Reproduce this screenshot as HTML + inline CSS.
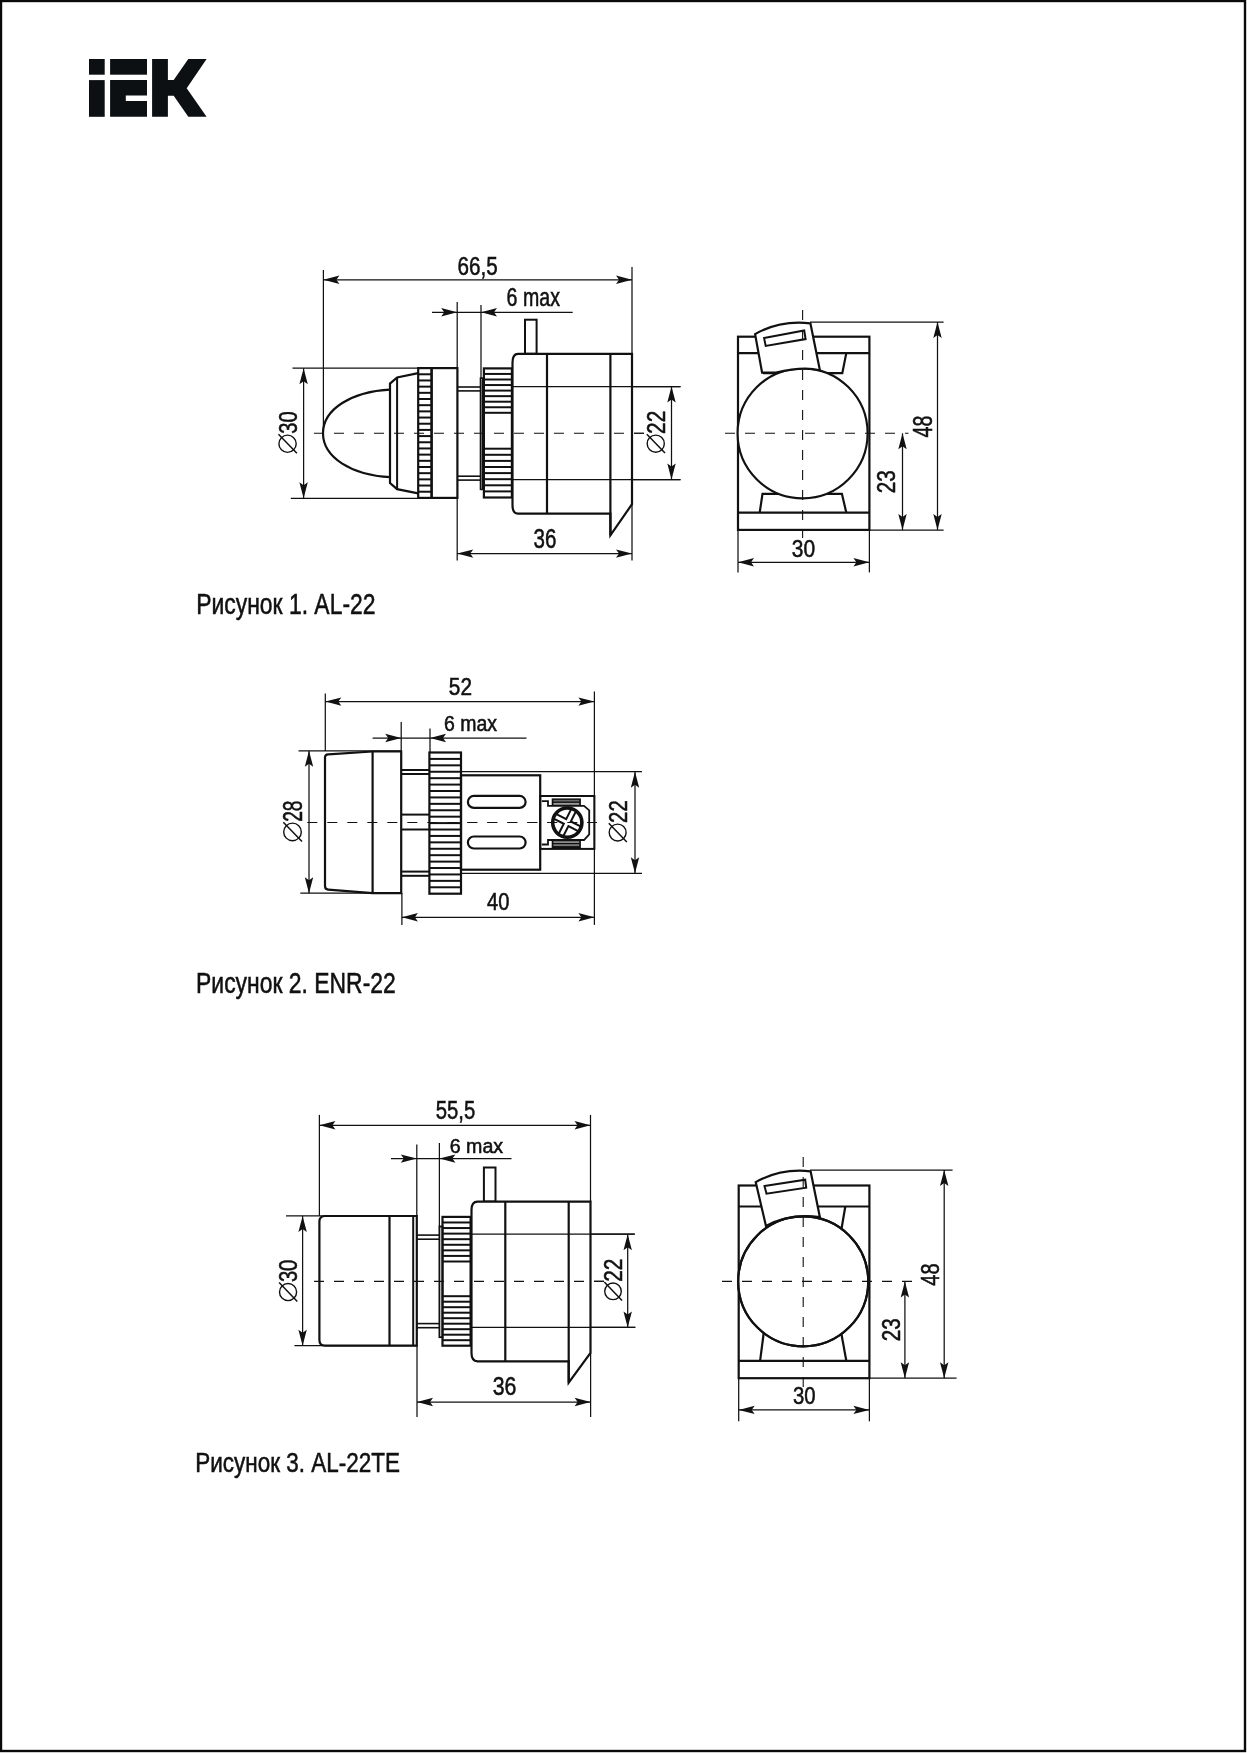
<!DOCTYPE html>
<html><head><meta charset="utf-8"><title>IEK AL-22 / ENR-22 / AL-22TE</title>
<style>
html,body{margin:0;padding:0;background:#fff;}
svg{display:block;will-change:transform;}
text{font-family:"Liberation Sans",sans-serif;fill:#111;stroke:#111;stroke-width:0.55px;}
</style></head><body>
<svg width="1247" height="1753" viewBox="0 0 1247 1753">
<rect x="1" y="1" width="1244" height="1750" fill="none" stroke="#0a0a0a" stroke-width="2.4"/>
<g fill="#0d1012"><rect x="89" y="59" width="15.7" height="15.7"/><rect x="89" y="80.1" width="15.7" height="36.7"/><rect x="110.1" y="59" width="36.9" height="15.7"/><path d="M110.1 80.1 H147 V95.5 H125.8 V101.1 H147 V116.8 H110.1 Z"/><path d="M152.1 59 H167.9 V80.1 H173.7 L188.3 59 H206.6 L186.7 88.2 L206.6 116.8 H188.3 L173.7 95.8 H167.9 V116.8 H152.1 Z"/></g>
<line x1="314" y1="433.3" x2="645" y2="433.3" stroke="#111" stroke-width="1.1" stroke-dasharray="10 10" stroke-dashoffset="0"/>
<line x1="323.4" y1="270" x2="323.4" y2="433.3" stroke="#111" stroke-width="1.25"/>
<line x1="632" y1="267" x2="632" y2="354" stroke="#111" stroke-width="1.25"/>
<line x1="323.4" y1="279.8" x2="632" y2="279.8" stroke="#111" stroke-width="1.25"/>
<path d="M323.4 279.8 L339.4 275.6 L336.4 279.8 L339.4 284 Z" fill="#111" stroke="none"/>
<path d="M632 279.8 L616 275.6 L619 279.8 L616 284 Z" fill="#111" stroke="none"/>
<text transform="translate(457.47 274.5) scale(0.7942 1)" font-size="26.00">66,5</text>
<line x1="432" y1="312.3" x2="572.7" y2="312.3" stroke="#111" stroke-width="1.25"/>
<path d="M457.2 312.3 L441.2 308.1 L444.2 312.3 L441.2 316.5 Z" fill="#111" stroke="none"/>
<path d="M481 312.3 L497 308.1 L494 312.3 L497 316.5 Z" fill="#111" stroke="none"/>
<line x1="457.2" y1="302" x2="457.2" y2="368" stroke="#111" stroke-width="1.25"/>
<line x1="481" y1="305" x2="481" y2="378.5" stroke="#111" stroke-width="1.25"/>
<text transform="translate(506.62 305.6) scale(0.7575 1)" font-size="25.86">6 max</text>
<line x1="292.5" y1="368.2" x2="418" y2="368.2" stroke="#111" stroke-width="1.25"/>
<line x1="290.8" y1="498.3" x2="418" y2="498.3" stroke="#111" stroke-width="1.25"/>
<line x1="303.6" y1="368.2" x2="303.6" y2="498.3" stroke="#111" stroke-width="1.25"/>
<path d="M303.6 368.2 L299.4 384.2 L303.6 381.2 L307.8 384.2 Z" fill="#111" stroke="none"/>
<path d="M303.6 498.3 L299.4 482.3 L303.6 485.3 L307.8 482.3 Z" fill="#111" stroke="none"/>
<circle cx="287.55" cy="443.75" r="8.65" fill="none" stroke="#111" stroke-width="1.4"/>
<line x1="278.5" y1="434.2" x2="296.9" y2="453.3" stroke="#111" stroke-width="1.5"/>
<text transform="translate(296.9 433.7) rotate(-90) scale(0.7523 1)" font-size="26.71">30</text>
<line x1="512" y1="386.5" x2="680.5" y2="386.5" stroke="#111" stroke-width="1.25"/>
<line x1="512" y1="479.6" x2="680.5" y2="479.6" stroke="#111" stroke-width="1.25"/>
<line x1="671.5" y1="386.5" x2="671.5" y2="479.6" stroke="#111" stroke-width="1.25"/>
<path d="M671.5 386.5 L667.3 402.5 L671.5 399.5 L675.7 402.5 Z" fill="#111" stroke="none"/>
<path d="M671.5 479.6 L667.3 463.6 L671.5 466.6 L675.7 463.6 Z" fill="#111" stroke="none"/>
<circle cx="655.75" cy="443.65" r="8.55" fill="none" stroke="#111" stroke-width="1.4"/>
<line x1="646.8" y1="434.2" x2="665" y2="453.1" stroke="#111" stroke-width="1.5"/>
<text transform="translate(665 433.94) rotate(-90) scale(0.7905 1)" font-size="26.43">22</text>
<line x1="457.2" y1="498" x2="457.2" y2="560.4" stroke="#111" stroke-width="1.25"/>
<line x1="632" y1="504" x2="632" y2="560.4" stroke="#111" stroke-width="1.25"/>
<line x1="457.2" y1="553.6" x2="632" y2="553.6" stroke="#111" stroke-width="1.25"/>
<path d="M457.2 553.6 L473.2 549.4 L470.2 553.6 L473.2 557.8 Z" fill="#111" stroke="none"/>
<path d="M632 553.6 L616 549.4 L619 553.6 L616 557.8 Z" fill="#111" stroke="none"/>
<text transform="translate(533.58 548.4) scale(0.7583 1)" font-size="27.14">36</text>
<path d="M390 389.6 C352 391.5 323 409 323 433.3 C323 457.6 352 475.3 390 477.2" fill="none" stroke="#111" stroke-width="2.2"/>
<path d="M418.2 373.2 L397.1 377.4 L390 383.6 L390 483 L397.1 489.2 L418.2 493.4" fill="none" stroke="#111" stroke-width="2.2"/>
<line x1="397.1" y1="377.4" x2="397.1" y2="489.2" stroke="#111" stroke-width="2"/>
<rect x="418.2" y="368.1" width="13.4" height="129.8" fill="none" stroke="#111" stroke-width="2.2"/>
<line x1="418.2" y1="374.28" x2="431.6" y2="374.28" stroke="#111" stroke-width="2"/>
<line x1="418.2" y1="380.46" x2="431.6" y2="380.46" stroke="#111" stroke-width="2"/>
<line x1="418.2" y1="386.64" x2="431.6" y2="386.64" stroke="#111" stroke-width="2"/>
<line x1="418.2" y1="392.82" x2="431.6" y2="392.82" stroke="#111" stroke-width="2"/>
<line x1="418.2" y1="399" x2="431.6" y2="399" stroke="#111" stroke-width="2"/>
<line x1="418.2" y1="405.19" x2="431.6" y2="405.19" stroke="#111" stroke-width="2"/>
<line x1="418.2" y1="411.37" x2="431.6" y2="411.37" stroke="#111" stroke-width="2"/>
<line x1="418.2" y1="417.55" x2="431.6" y2="417.55" stroke="#111" stroke-width="2"/>
<line x1="418.2" y1="423.73" x2="431.6" y2="423.73" stroke="#111" stroke-width="2"/>
<line x1="418.2" y1="429.91" x2="431.6" y2="429.91" stroke="#111" stroke-width="2"/>
<line x1="418.2" y1="436.09" x2="431.6" y2="436.09" stroke="#111" stroke-width="2"/>
<line x1="418.2" y1="442.27" x2="431.6" y2="442.27" stroke="#111" stroke-width="2"/>
<line x1="418.2" y1="448.45" x2="431.6" y2="448.45" stroke="#111" stroke-width="2"/>
<line x1="418.2" y1="454.63" x2="431.6" y2="454.63" stroke="#111" stroke-width="2"/>
<line x1="418.2" y1="460.81" x2="431.6" y2="460.81" stroke="#111" stroke-width="2"/>
<line x1="418.2" y1="467" x2="431.6" y2="467" stroke="#111" stroke-width="2"/>
<line x1="418.2" y1="473.18" x2="431.6" y2="473.18" stroke="#111" stroke-width="2"/>
<line x1="418.2" y1="479.36" x2="431.6" y2="479.36" stroke="#111" stroke-width="2"/>
<line x1="418.2" y1="485.54" x2="431.6" y2="485.54" stroke="#111" stroke-width="2"/>
<line x1="418.2" y1="491.72" x2="431.6" y2="491.72" stroke="#111" stroke-width="2"/>
<rect x="431.6" y="368.1" width="25.8" height="129.8" fill="none" stroke="#111" stroke-width="2.2"/>
<line x1="457.4" y1="387" x2="480.3" y2="387" stroke="#111" stroke-width="1.6"/>
<line x1="457.4" y1="390.9" x2="480.3" y2="390.9" stroke="#111" stroke-width="1.6"/>
<line x1="457.4" y1="476.2" x2="480.3" y2="476.2" stroke="#111" stroke-width="1.6"/>
<line x1="457.4" y1="480.1" x2="480.3" y2="480.1" stroke="#111" stroke-width="1.6"/>
<rect x="480.6" y="378.2" width="2.1" height="111.1" fill="none" stroke="#111" stroke-width="1.8"/>
<rect x="483.9" y="368.4" width="28" height="129.1" fill="none" stroke="#111" stroke-width="2.2"/>
<line x1="483.9" y1="373.95" x2="511.9" y2="373.95" stroke="#111" stroke-width="2"/>
<line x1="483.9" y1="379.5" x2="511.9" y2="379.5" stroke="#111" stroke-width="2"/>
<line x1="483.9" y1="385.05" x2="511.9" y2="385.05" stroke="#111" stroke-width="2"/>
<line x1="483.9" y1="390.6" x2="511.9" y2="390.6" stroke="#111" stroke-width="2"/>
<line x1="483.9" y1="396.15" x2="511.9" y2="396.15" stroke="#111" stroke-width="2"/>
<line x1="483.9" y1="401.7" x2="511.9" y2="401.7" stroke="#111" stroke-width="2"/>
<line x1="483.9" y1="407.25" x2="511.9" y2="407.25" stroke="#111" stroke-width="2"/>
<line x1="483.9" y1="412.8" x2="511.9" y2="412.8" stroke="#111" stroke-width="2"/>
<line x1="483.9" y1="454.8" x2="511.9" y2="454.8" stroke="#111" stroke-width="2"/>
<line x1="483.9" y1="460.9" x2="511.9" y2="460.9" stroke="#111" stroke-width="2"/>
<line x1="483.9" y1="467" x2="511.9" y2="467" stroke="#111" stroke-width="2"/>
<line x1="483.9" y1="473.1" x2="511.9" y2="473.1" stroke="#111" stroke-width="2"/>
<line x1="483.9" y1="479.2" x2="511.9" y2="479.2" stroke="#111" stroke-width="2"/>
<line x1="483.9" y1="485.3" x2="511.9" y2="485.3" stroke="#111" stroke-width="2"/>
<line x1="483.9" y1="491.4" x2="511.9" y2="491.4" stroke="#111" stroke-width="2"/>
<line x1="483.9" y1="448.7" x2="511.9" y2="448.7" stroke="#111" stroke-width="2"/>
<rect x="525" y="319.7" width="11.6" height="34.1" fill="none" stroke="#111" stroke-width="2"/>
<path d="M518 353.8 H632 V504.2 L610.4 535.3 V513.7 H518 Q512.5 513.7 512.5 505 V362.5 Q512.5 353.8 518 353.8 Z" fill="#fff" stroke="#111" stroke-width="2.2"/>
<line x1="547" y1="353.8" x2="547" y2="513.7" stroke="#111" stroke-width="2.2"/>
<line x1="610.4" y1="353.8" x2="610.4" y2="535.3" stroke="#111" stroke-width="2.2"/>
<line x1="512.5" y1="386.5" x2="680.5" y2="386.5" stroke="#111" stroke-width="1.25"/>
<line x1="512.5" y1="479.6" x2="680.5" y2="479.6" stroke="#111" stroke-width="1.25"/>
<line x1="512" y1="433.3" x2="645" y2="433.3" stroke="#111" stroke-width="1.1" stroke-dasharray="10 10" stroke-dashoffset="18"/>
<rect x="738" y="336.7" width="131.4" height="193.2" fill="none" stroke="#111" stroke-width="2.2"/>
<line x1="738" y1="353.1" x2="869.4" y2="353.1" stroke="#111" stroke-width="2.2"/>
<line x1="738" y1="512.6" x2="869.4" y2="512.6" stroke="#111" stroke-width="2.2"/>
<path d="M760 353.1 L764 373.2 H842.3 L846.3 353.1" fill="none" stroke="#111" stroke-width="2.2"/>
<path d="M759.7 512.6 L762.5 493.8 H841.9 L846.3 512.6" fill="none" stroke="#111" stroke-width="2.2"/>
<circle cx="802.6" cy="433.3" r="65" fill="#fff" stroke="#111" stroke-width="2.15"/>
<path d="M755.1 334.1 C771 325 790 321 810.4 323.3 L819.9 370.2 Q803 366 776 372.6 H762.1 Z" fill="#fff" stroke="#111" stroke-width="2.2"/>
<path d="M764.1 338.1 L804.2 330.5 L805.6 339.1 L765.7 345.9 Z" fill="none" stroke="#111" stroke-width="2"/>
<line x1="802.6" y1="310" x2="802.6" y2="538" stroke="#111" stroke-width="1.1" stroke-dasharray="10 10"/>
<line x1="725" y1="433.3" x2="908.5" y2="433.3" stroke="#111" stroke-width="1.1" stroke-dasharray="10 10" stroke-dashoffset="0"/>
<line x1="810" y1="322" x2="943.6" y2="322" stroke="#111" stroke-width="1.25"/>
<line x1="869.4" y1="530" x2="943.6" y2="530" stroke="#111" stroke-width="1.25"/>
<line x1="937.5" y1="322" x2="937.5" y2="530" stroke="#111" stroke-width="1.25"/>
<path d="M937.5 322 L933.3 338 L937.5 335 L941.7 338 Z" fill="#111" stroke="none"/>
<path d="M937.5 530 L933.3 514 L937.5 517 L941.7 514 Z" fill="#111" stroke="none"/>
<line x1="902.5" y1="433.3" x2="902.5" y2="530" stroke="#111" stroke-width="1.25"/>
<path d="M902.5 433.3 L898.3 449.3 L902.5 446.3 L906.7 449.3 Z" fill="#111" stroke="none"/>
<path d="M902.5 530 L898.3 514 L902.5 517 L906.7 514 Z" fill="#111" stroke="none"/>
<line x1="738" y1="530" x2="738" y2="572.4" stroke="#111" stroke-width="1.25"/>
<line x1="869.4" y1="530" x2="869.4" y2="572.4" stroke="#111" stroke-width="1.25"/>
<line x1="738" y1="562.3" x2="869.4" y2="562.3" stroke="#111" stroke-width="1.25"/>
<path d="M738 562.3 L754 558.1 L751 562.3 L754 566.5 Z" fill="#111" stroke="none"/>
<path d="M869.4 562.3 L853.4 558.1 L856.4 562.3 L853.4 566.5 Z" fill="#111" stroke="none"/>
<text transform="translate(931.5 437.39) rotate(-90) scale(0.7263 1)" font-size="27.14">48</text>
<text transform="translate(895.4 493.23) rotate(-90) scale(0.8045 1)" font-size="25.71">23</text>
<text transform="translate(791.76 557.3) scale(0.8635 1)" font-size="24.29">30</text>
<text transform="translate(196.17 613.5) scale(0.7823 1)" font-size="29.29">Рисунок 1. AL-22</text>
<line x1="307.3" y1="822.5" x2="597" y2="822.5" stroke="#111" stroke-width="1.1" stroke-dasharray="10 10" stroke-dashoffset="0"/>
<line x1="325.3" y1="693.5" x2="325.3" y2="751" stroke="#111" stroke-width="1.25"/>
<line x1="594.4" y1="691.5" x2="594.4" y2="924.9" stroke="#111" stroke-width="1.25"/>
<line x1="325.3" y1="701.6" x2="594.4" y2="701.6" stroke="#111" stroke-width="1.25"/>
<path d="M325.3 701.6 L341.3 697.4 L338.3 701.6 L341.3 705.8 Z" fill="#111" stroke="none"/>
<path d="M594.4 701.6 L578.4 697.4 L581.4 701.6 L578.4 705.8 Z" fill="#111" stroke="none"/>
<text transform="translate(448.87 694.6) scale(0.8871 1)" font-size="23.43">52</text>
<line x1="372.6" y1="738" x2="526.5" y2="738" stroke="#111" stroke-width="1.25"/>
<path d="M401.2 738 L385.2 733.8 L388.2 738 L385.2 742.2 Z" fill="#111" stroke="none"/>
<path d="M430 738 L446 733.8 L443 738 L446 742.2 Z" fill="#111" stroke="none"/>
<line x1="401.2" y1="722" x2="401.2" y2="751" stroke="#111" stroke-width="1.25"/>
<line x1="430" y1="728.4" x2="430" y2="752" stroke="#111" stroke-width="1.25"/>
<text transform="translate(444.03 731.2) scale(0.9088 1)" font-size="21.43">6 max</text>
<line x1="298.5" y1="750.8" x2="401" y2="750.8" stroke="#111" stroke-width="1.25"/>
<line x1="300.3" y1="893.2" x2="401" y2="893.2" stroke="#111" stroke-width="1.25"/>
<line x1="309" y1="750.8" x2="309" y2="893.2" stroke="#111" stroke-width="1.25"/>
<path d="M309 750.8 L304.8 766.8 L309 763.8 L313.2 766.8 Z" fill="#111" stroke="none"/>
<path d="M309 893.2 L304.8 877.2 L309 880.2 L313.2 877.2 Z" fill="#111" stroke="none"/>
<circle cx="292.5" cy="831.9" r="8.8" fill="none" stroke="#111" stroke-width="1.4"/>
<line x1="283.3" y1="822.2" x2="302" y2="841.6" stroke="#111" stroke-width="1.5"/>
<text transform="translate(302 821.86) rotate(-90) scale(0.7079 1)" font-size="27.14">28</text>
<line x1="461" y1="771.7" x2="642" y2="771.7" stroke="#111" stroke-width="1.25"/>
<line x1="461" y1="873.3" x2="642" y2="873.3" stroke="#111" stroke-width="1.25"/>
<line x1="635" y1="771.7" x2="635" y2="873.3" stroke="#111" stroke-width="1.25"/>
<path d="M635 771.7 L630.8 787.7 L635 784.7 L639.2 787.7 Z" fill="#111" stroke="none"/>
<path d="M635 873.3 L630.8 857.3 L635 860.3 L639.2 857.3 Z" fill="#111" stroke="none"/>
<circle cx="617.65" cy="832.55" r="8.45" fill="none" stroke="#111" stroke-width="1.4"/>
<line x1="608.8" y1="823.2" x2="626.8" y2="841.9" stroke="#111" stroke-width="1.5"/>
<text transform="translate(626.8 822.92) rotate(-90) scale(0.7802 1)" font-size="26.14">22</text>
<line x1="401.9" y1="893" x2="401.9" y2="924.9" stroke="#111" stroke-width="1.25"/>
<line x1="401.9" y1="917.3" x2="594.4" y2="917.3" stroke="#111" stroke-width="1.25"/>
<path d="M401.9 917.3 L417.9 913.1 L414.9 917.3 L417.9 921.5 Z" fill="#111" stroke="none"/>
<path d="M594.4 917.3 L578.4 913.1 L581.4 917.3 L578.4 921.5 Z" fill="#111" stroke="none"/>
<text transform="translate(487.1 910.3) scale(0.8630 1)" font-size="23.29">40</text>
<path d="M325 886 V757.6 Q325 754.5 328.2 754.3 L372.6 751.5 H401.2 V893.2 H372.6 L328.2 889.6 Q325 889.4 325 886 Z" fill="none" stroke="#111" stroke-width="2.2"/>
<line x1="372.6" y1="751.6" x2="372.6" y2="893.2" stroke="#111" stroke-width="2.2"/>
<line x1="401.2" y1="770" x2="429.6" y2="770" stroke="#111" stroke-width="2"/>
<line x1="401.2" y1="774" x2="429.6" y2="774" stroke="#111" stroke-width="2"/>
<line x1="401.2" y1="814.6" x2="429.6" y2="814.6" stroke="#111" stroke-width="2"/>
<line x1="401.2" y1="829.5" x2="429.6" y2="829.5" stroke="#111" stroke-width="2"/>
<line x1="401.2" y1="871.6" x2="429.6" y2="871.6" stroke="#111" stroke-width="2"/>
<line x1="401.2" y1="875.8" x2="429.6" y2="875.8" stroke="#111" stroke-width="2"/>
<rect x="429.4" y="752.5" width="31.6" height="141.2" fill="none" stroke="#111" stroke-width="2.2"/>
<line x1="429.4" y1="758.92" x2="461" y2="758.92" stroke="#111" stroke-width="2"/>
<line x1="429.4" y1="765.34" x2="461" y2="765.34" stroke="#111" stroke-width="2"/>
<line x1="429.4" y1="771.75" x2="461" y2="771.75" stroke="#111" stroke-width="2"/>
<line x1="429.4" y1="778.17" x2="461" y2="778.17" stroke="#111" stroke-width="2"/>
<line x1="429.4" y1="784.59" x2="461" y2="784.59" stroke="#111" stroke-width="2"/>
<line x1="429.4" y1="791.01" x2="461" y2="791.01" stroke="#111" stroke-width="2"/>
<line x1="429.4" y1="797.43" x2="461" y2="797.43" stroke="#111" stroke-width="2"/>
<line x1="429.4" y1="803.85" x2="461" y2="803.85" stroke="#111" stroke-width="2"/>
<line x1="429.4" y1="810.26" x2="461" y2="810.26" stroke="#111" stroke-width="2"/>
<line x1="429.4" y1="816.68" x2="461" y2="816.68" stroke="#111" stroke-width="2"/>
<line x1="429.4" y1="823.1" x2="461" y2="823.1" stroke="#111" stroke-width="2"/>
<line x1="429.4" y1="829.52" x2="461" y2="829.52" stroke="#111" stroke-width="2"/>
<line x1="429.4" y1="835.94" x2="461" y2="835.94" stroke="#111" stroke-width="2"/>
<line x1="429.4" y1="842.35" x2="461" y2="842.35" stroke="#111" stroke-width="2"/>
<line x1="429.4" y1="848.77" x2="461" y2="848.77" stroke="#111" stroke-width="2"/>
<line x1="429.4" y1="855.19" x2="461" y2="855.19" stroke="#111" stroke-width="2"/>
<line x1="429.4" y1="861.61" x2="461" y2="861.61" stroke="#111" stroke-width="2"/>
<line x1="429.4" y1="868.03" x2="461" y2="868.03" stroke="#111" stroke-width="2"/>
<line x1="429.4" y1="874.45" x2="461" y2="874.45" stroke="#111" stroke-width="2"/>
<line x1="429.4" y1="880.86" x2="461" y2="880.86" stroke="#111" stroke-width="2"/>
<line x1="429.4" y1="887.28" x2="461" y2="887.28" stroke="#111" stroke-width="2"/>
<rect x="461" y="775.3" width="79.2" height="94.4" fill="none" stroke="#111" stroke-width="2.2"/>
<rect x="467.9" y="795.9" width="57.7" height="12" fill="none" stroke="#111" stroke-width="2.2" rx="6"/>
<rect x="467.9" y="836.5" width="57.7" height="12" fill="none" stroke="#111" stroke-width="2.2" rx="6"/>
<rect x="540.2" y="796" width="54.2" height="52.9" fill="none" stroke="#111" stroke-width="2"/>
<path d="M541.8 801.2 H548 V805.9 H584 L589.2 810.3 V834.3 L584 840 H548 V844.5 H541.8" fill="none" stroke="#111" stroke-width="1.8"/>
<rect x="551.7" y="798.4" width="29.2" height="7.6" fill="#111"/><rect x="553.4" y="799.9" width="25.8" height="1.6" fill="#6a6a6a"/><rect x="553.4" y="802.9" width="25.8" height="1.9" fill="#9a9a9a"/>
<rect x="551.7" y="840" width="29.2" height="8" fill="#111"/><rect x="553.4" y="841.3" width="25.8" height="1.6" fill="#9a9a9a"/><rect x="553.4" y="844.2" width="25.8" height="1.9" fill="#7a7a7a"/>
<circle cx="567.3" cy="822.6" r="14.6" fill="#fff" stroke="#111" stroke-width="3.6"/>
<g transform="translate(567.3 822.6) rotate(27)"><path d="M-13.5 -2.6 H-2.6 V-13.5 M2.6 -13.5 V-2.6 H13.5 M13.5 2.6 H2.6 V13.5 M-2.6 13.5 V2.6 H-13.5" fill="none" stroke="#111" stroke-width="2"/></g>
<line x1="461" y1="822.5" x2="597" y2="822.5" stroke="#111" stroke-width="1.1" stroke-dasharray="10 10" stroke-dashoffset="13.7"/>
<text transform="translate(196.07 992.6) scale(0.7939 1)" font-size="28.86">Рисунок 2. ENR-22</text>
<line x1="314" y1="1281.4" x2="606" y2="1281.4" stroke="#111" stroke-width="1.1" stroke-dasharray="10 10" stroke-dashoffset="0"/>
<line x1="319.4" y1="1114.9" x2="319.4" y2="1216" stroke="#111" stroke-width="1.25"/>
<line x1="590.5" y1="1114.9" x2="590.5" y2="1201.6" stroke="#111" stroke-width="1.25"/>
<line x1="319.4" y1="1125.3" x2="590.5" y2="1125.3" stroke="#111" stroke-width="1.25"/>
<path d="M319.4 1125.3 L335.4 1121.1 L332.4 1125.3 L335.4 1129.5 Z" fill="#111" stroke="none"/>
<path d="M590.5 1125.3 L574.5 1121.1 L577.5 1125.3 L574.5 1129.5 Z" fill="#111" stroke="none"/>
<text transform="translate(435.69 1118.6) scale(0.7967 1)" font-size="25.51">55,5</text>
<line x1="391" y1="1158.6" x2="511.5" y2="1158.6" stroke="#111" stroke-width="1.25"/>
<path d="M416.8 1158.6 L400.8 1154.4 L403.8 1158.6 L400.8 1162.8 Z" fill="#111" stroke="none"/>
<path d="M439.4 1158.6 L455.4 1154.4 L452.4 1158.6 L455.4 1162.8 Z" fill="#111" stroke="none"/>
<line x1="416.8" y1="1144.5" x2="416.8" y2="1216" stroke="#111" stroke-width="1.25"/>
<line x1="439.4" y1="1143" x2="439.4" y2="1226.5" stroke="#111" stroke-width="1.25"/>
<text transform="translate(449.72 1152.7) scale(0.9954 1)" font-size="19.71">6 max</text>
<line x1="286" y1="1215.9" x2="416.8" y2="1215.9" stroke="#111" stroke-width="1.25"/>
<line x1="294.4" y1="1345.7" x2="416.8" y2="1345.7" stroke="#111" stroke-width="1.25"/>
<line x1="302.6" y1="1215.9" x2="302.6" y2="1345.7" stroke="#111" stroke-width="1.25"/>
<path d="M302.6 1215.9 L298.4 1231.9 L302.6 1228.9 L306.8 1231.9 Z" fill="#111" stroke="none"/>
<path d="M302.6 1345.7 L298.4 1329.7 L302.6 1332.7 L306.8 1329.7 Z" fill="#111" stroke="none"/>
<circle cx="288.05" cy="1292.05" r="8.55" fill="none" stroke="#111" stroke-width="1.4"/>
<line x1="279.1" y1="1282.6" x2="297.3" y2="1301.5" stroke="#111" stroke-width="1.5"/>
<text transform="translate(297.3 1282.11) rotate(-90) scale(0.7641 1)" font-size="26.43">30</text>
<line x1="471" y1="1234.2" x2="634.8" y2="1234.2" stroke="#111" stroke-width="1.25"/>
<line x1="471" y1="1327.4" x2="635.3" y2="1327.4" stroke="#111" stroke-width="1.25"/>
<line x1="627.7" y1="1234.2" x2="627.7" y2="1327.4" stroke="#111" stroke-width="1.25"/>
<path d="M627.7 1234.2 L623.5 1250.2 L627.7 1247.2 L631.9 1250.2 Z" fill="#111" stroke="none"/>
<path d="M627.7 1327.4 L623.5 1311.4 L627.7 1314.4 L631.9 1311.4 Z" fill="#111" stroke="none"/>
<circle cx="613" cy="1291.3" r="8.3" fill="none" stroke="#111" stroke-width="1.4"/>
<line x1="604.3" y1="1282.1" x2="622" y2="1300.5" stroke="#111" stroke-width="1.5"/>
<text transform="translate(622 1281.84) rotate(-90) scale(0.8124 1)" font-size="25.71">22</text>
<line x1="417" y1="1345.7" x2="417" y2="1417" stroke="#111" stroke-width="1.25"/>
<line x1="590.6" y1="1352.9" x2="590.6" y2="1417" stroke="#111" stroke-width="1.25"/>
<line x1="417" y1="1402" x2="590.6" y2="1402" stroke="#111" stroke-width="1.25"/>
<path d="M417 1402 L433 1397.8 L430 1402 L433 1406.2 Z" fill="#111" stroke="none"/>
<path d="M590.6 1402 L574.6 1397.8 L577.6 1402 L574.6 1406.2 Z" fill="#111" stroke="none"/>
<text transform="translate(492.75 1395.1) scale(0.8362 1)" font-size="25.43">36</text>
<path d="M325 1216 H416.8 V1345.7 H325 Q319.4 1345.7 319.4 1340 V1221.6 Q319.4 1216 325 1216 Z" fill="none" stroke="#111" stroke-width="2.2"/>
<line x1="389.5" y1="1216" x2="389.5" y2="1345.7" stroke="#111" stroke-width="2.2"/>
<line x1="413.2" y1="1216" x2="413.2" y2="1345.7" stroke="#111" stroke-width="2"/>
<line x1="416.8" y1="1235.1" x2="439.2" y2="1235.1" stroke="#111" stroke-width="1.6"/>
<line x1="416.8" y1="1239.2" x2="439.2" y2="1239.2" stroke="#111" stroke-width="1.6"/>
<line x1="416.8" y1="1323.6" x2="439.2" y2="1323.6" stroke="#111" stroke-width="1.6"/>
<line x1="416.8" y1="1327.7" x2="439.2" y2="1327.7" stroke="#111" stroke-width="1.6"/>
<rect x="439.4" y="1226.5" width="3.1" height="110.7" fill="none" stroke="#111" stroke-width="1.8"/>
<rect x="442.5" y="1216.9" width="28.1" height="128.8" fill="none" stroke="#111" stroke-width="2.2"/>
<line x1="442.5" y1="1222.48" x2="470.6" y2="1222.48" stroke="#111" stroke-width="2"/>
<line x1="442.5" y1="1228.05" x2="470.6" y2="1228.05" stroke="#111" stroke-width="2"/>
<line x1="442.5" y1="1233.62" x2="470.6" y2="1233.62" stroke="#111" stroke-width="2"/>
<line x1="442.5" y1="1239.2" x2="470.6" y2="1239.2" stroke="#111" stroke-width="2"/>
<line x1="442.5" y1="1244.78" x2="470.6" y2="1244.78" stroke="#111" stroke-width="2"/>
<line x1="442.5" y1="1250.35" x2="470.6" y2="1250.35" stroke="#111" stroke-width="2"/>
<line x1="442.5" y1="1255.92" x2="470.6" y2="1255.92" stroke="#111" stroke-width="2"/>
<line x1="442.5" y1="1261.5" x2="470.6" y2="1261.5" stroke="#111" stroke-width="2"/>
<line x1="442.5" y1="1301.7" x2="470.6" y2="1301.7" stroke="#111" stroke-width="2"/>
<line x1="442.5" y1="1307.2" x2="470.6" y2="1307.2" stroke="#111" stroke-width="2"/>
<line x1="442.5" y1="1312.7" x2="470.6" y2="1312.7" stroke="#111" stroke-width="2"/>
<line x1="442.5" y1="1318.2" x2="470.6" y2="1318.2" stroke="#111" stroke-width="2"/>
<line x1="442.5" y1="1323.7" x2="470.6" y2="1323.7" stroke="#111" stroke-width="2"/>
<line x1="442.5" y1="1329.2" x2="470.6" y2="1329.2" stroke="#111" stroke-width="2"/>
<line x1="442.5" y1="1334.7" x2="470.6" y2="1334.7" stroke="#111" stroke-width="2"/>
<line x1="442.5" y1="1340.2" x2="470.6" y2="1340.2" stroke="#111" stroke-width="2"/>
<line x1="442.5" y1="1296.2" x2="470.6" y2="1296.2" stroke="#111" stroke-width="2"/>
<rect x="483.9" y="1167.5" width="11.6" height="34.1" fill="none" stroke="#111" stroke-width="2"/>
<path d="M477.5 1201.6 H590.5 V1352.9 L568.7 1382.6 V1361.3 H477.5 Q471.5 1361.3 471.5 1353 V1210 Q471.5 1201.6 477.5 1201.6 Z" fill="#fff" stroke="#111" stroke-width="2.2"/>
<line x1="505.3" y1="1201.6" x2="505.3" y2="1361.3" stroke="#111" stroke-width="2.2"/>
<line x1="568.7" y1="1201.6" x2="568.7" y2="1382.6" stroke="#111" stroke-width="2.2"/>
<line x1="471.5" y1="1234.2" x2="634.8" y2="1234.2" stroke="#111" stroke-width="1.25"/>
<line x1="471.5" y1="1327.4" x2="635.3" y2="1327.4" stroke="#111" stroke-width="1.25"/>
<line x1="472" y1="1281.4" x2="606" y2="1281.4" stroke="#111" stroke-width="1.1" stroke-dasharray="10 10" stroke-dashoffset="18"/>
<rect x="738.7" y="1185.5" width="130.7" height="192.7" fill="none" stroke="#111" stroke-width="2.2"/>
<line x1="738.7" y1="1206.5" x2="869.4" y2="1206.5" stroke="#111" stroke-width="2.2"/>
<line x1="738.7" y1="1360.8" x2="869.4" y2="1360.8" stroke="#111" stroke-width="2.2"/>
<path d="M845.3 1206.5 L841.3 1230" fill="none" stroke="#111" stroke-width="2.2"/>
<path d="M760.1 1360.8 L764.1 1330" fill="none" stroke="#111" stroke-width="2.2"/>
<path d="M846.3 1360.8 L840.7 1330" fill="none" stroke="#111" stroke-width="2.2"/>
<circle cx="803.2" cy="1281.4" r="65" fill="#fff" stroke="#111" stroke-width="2.15"/>
<path d="M755.7 1182.1 C772 1173 790 1169 810.6 1171.3 L819.9 1217.2 Q790 1213 766 1226 Z" fill="#fff" stroke="#111" stroke-width="2.2"/>
<circle cx="803.2" cy="1281.4" r="65" fill="none" stroke="#111" stroke-width="2.15"/>
<path d="M764.5 1186.1 L805.2 1179.7 L806.2 1187.7 L766.5 1193.7 Z" fill="none" stroke="#111" stroke-width="2"/>
<line x1="803.2" y1="1157" x2="803.2" y2="1387" stroke="#111" stroke-width="1.1" stroke-dasharray="10 10"/>
<line x1="722" y1="1281.4" x2="912.5" y2="1281.4" stroke="#111" stroke-width="1.1" stroke-dasharray="10 10" stroke-dashoffset="0"/>
<line x1="810" y1="1170" x2="952.6" y2="1170" stroke="#111" stroke-width="1.25"/>
<line x1="869.4" y1="1378.2" x2="956.6" y2="1378.2" stroke="#111" stroke-width="1.25"/>
<line x1="944.2" y1="1170" x2="944.2" y2="1378.2" stroke="#111" stroke-width="1.25"/>
<path d="M944.2 1170 L940 1186 L944.2 1183 L948.4 1186 Z" fill="#111" stroke="none"/>
<path d="M944.2 1378.2 L940 1362.2 L944.2 1365.2 L948.4 1362.2 Z" fill="#111" stroke="none"/>
<line x1="904.9" y1="1281.4" x2="904.9" y2="1378.2" stroke="#111" stroke-width="1.25"/>
<path d="M904.9 1281.4 L900.7 1297.4 L904.9 1294.4 L909.1 1297.4 Z" fill="#111" stroke="none"/>
<path d="M904.9 1378.2 L900.7 1362.2 L904.9 1365.2 L909.1 1362.2 Z" fill="#111" stroke="none"/>
<line x1="738.7" y1="1378.2" x2="738.7" y2="1421.3" stroke="#111" stroke-width="1.25"/>
<line x1="869.4" y1="1378.2" x2="869.4" y2="1421.3" stroke="#111" stroke-width="1.25"/>
<line x1="738.7" y1="1409.9" x2="869.4" y2="1409.9" stroke="#111" stroke-width="1.25"/>
<path d="M738.7 1409.9 L754.7 1405.7 L751.7 1409.9 L754.7 1414.1 Z" fill="#111" stroke="none"/>
<path d="M869.4 1409.9 L853.4 1405.7 L856.4 1409.9 L853.4 1414.1 Z" fill="#111" stroke="none"/>
<text transform="translate(938.5 1285.7) rotate(-90) scale(0.7778 1)" font-size="25.71">48</text>
<text transform="translate(899.5 1341.13) rotate(-90) scale(0.7962 1)" font-size="25.86">23</text>
<text transform="translate(792.99 1403.9) scale(0.8557 1)" font-size="23.71">30</text>
<text transform="translate(195.2 1471.8) scale(0.7953 1)" font-size="28.29">Рисунок 3. AL-22TE</text>
</svg>
</body></html>
